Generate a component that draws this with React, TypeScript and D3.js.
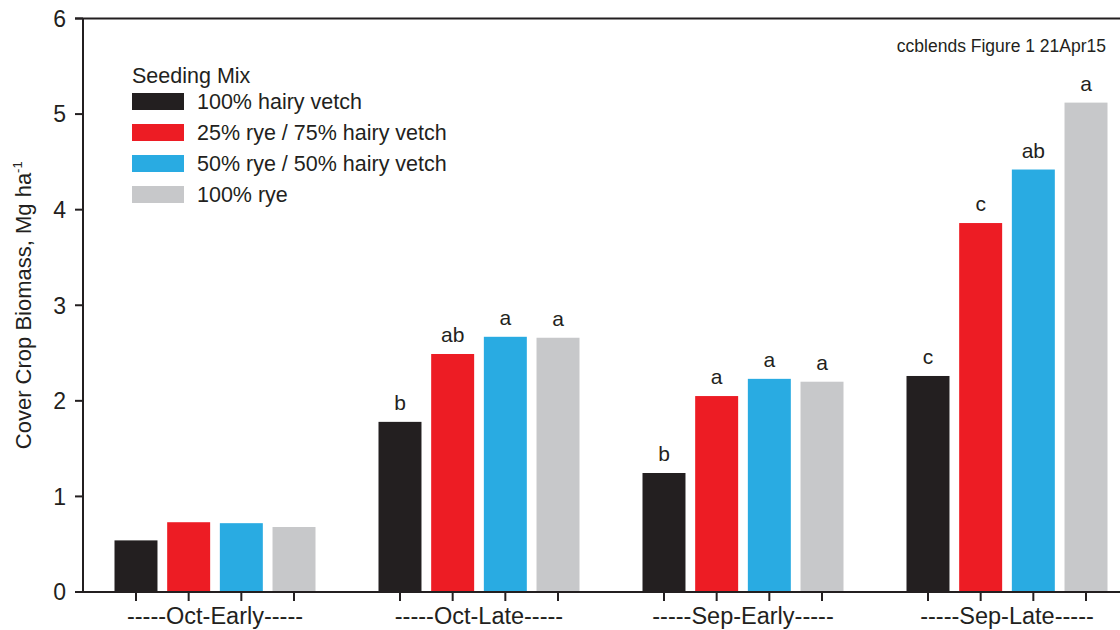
import React from "react";
import * as d3 from "d3";

const groups = ["-----Oct-Early-----", "-----Oct-Late-----", "-----Sep-Early-----", "-----Sep-Late-----"];
const mixes = ["100% hairy vetch", "25% rye / 75% hairy vetch", "50% rye / 50% hairy vetch", "100% rye"];
const colors = ["#231f20", "#ed1c24", "#29abe2", "#c7c8ca"];
const hairyVetch = [0.54, 1.78, 1.245, 2.26];
const rye25 = [0.73, 2.49, 2.05, 3.86];
const rye50 = [0.72, 2.67, 2.23, 4.42];
const rye100 = [0.68, 2.66, 2.2, 5.12];
const letters = [
  ["", "b", "b", "c"],
  ["", "ab", "a", "c"],
  ["", "a", "a", "ab"],
  ["", "a", "a", "a"],
];
const yTicks = [0, 1, 2, 3, 4, 5, 6];
const series = [hairyVetch, rye25, rye50, rye100];

const FONT = "'Liberation Sans', Arial, Helvetica, sans-serif";
const INK = "#231f20";

export default function App() {
  const W = 1120, H = 630;
  const left = 83, right = 1139, top = 18.5, bottom = 592;
  const x = d3.scaleBand<string>().domain(groups).range([left, right]).padding(0);
  const inner = d3.scaleBand<number>().domain([0, 1, 2, 3]).range([-100.5, 100.5]).paddingInner(0.184).paddingOuter(0);
  const y = d3.scaleLinear().domain([0, 6]).range([bottom, top]);

  return (
    <svg width={W} height={H} style={{ position: "absolute", left: 0, top: 0, background: "#fff" }} fontFamily={FONT}>
      {/* bars */}
      {series.map((vals, si) =>
        groups.map((g, gi) => {
          const cx = (x(g) as number) + x.bandwidth() / 2;
          const bx = cx + (inner(si) as number);
          const v = vals[gi];
          return (
            <g key={`${si}-${gi}`}>
              <rect x={bx} y={y(v)} width={inner.bandwidth()} height={bottom - y(v)} fill={colors[si]} />
              {letters[si][gi] && (
                <text x={bx + inner.bandwidth() / 2} y={y(v) - 12} textAnchor="middle" fontSize={21} fill={INK}>
                  {letters[si][gi]}
                </text>
              )}
            </g>
          );
        })
      )}
      {/* axes */}
      <line x1={left} x2={left} y1={top} y2={bottom} stroke={INK} strokeWidth={2} />
      <line x1={left - 8} x2={W} y1={bottom} y2={bottom} stroke={INK} strokeWidth={2} />
      <line x1={left - 8} x2={W} y1={top} y2={top} stroke={INK} strokeWidth={2} />
      {yTicks.map((t) => (
        <g key={t}>
          <line x1={left - 8} x2={left} y1={y(t)} y2={y(t)} stroke={INK} strokeWidth={2} />
          <text x={left - 17} y={y(t)} dy="0.36em" textAnchor="end" fontSize={23} fill={INK}>
            {t}
          </text>
        </g>
      ))}
      {groups.map((g) => {
        const cx = (x(g) as number) + x.bandwidth() / 2;
        return (
          <g key={g}>
            {[0, 1, 2, 3].map((i) => {
              const tx = cx + (inner(i) as number) + inner.bandwidth() / 2;
              return <line key={i} x1={tx} x2={tx} y1={bottom} y2={bottom + 9} stroke={INK} strokeWidth={2} />;
            })}
            <text x={cx} y={624} textAnchor="middle" fontSize={23.5} fill={INK}>
              {g}
            </text>
          </g>
        );
      })}
      {/* y label */}
      <text transform={`translate(31,${(top + bottom) / 2}) rotate(-90)`} textAnchor="middle" fontSize={22} fill={INK}>
        Cover Crop Biomass, Mg ha
        <tspan dy={-9} fontSize={13}>-1</tspan>
      </text>
      {/* annotation */}
      <text x={1106} y={52} textAnchor="end" fontSize={17.5} fill={INK}>
        ccblends Figure 1 21Apr15
      </text>
      {/* legend */}
      <text x={132} y={83} fontSize={21.5} fill={INK}>Seeding Mix</text>
      {mixes.map((m, i) => (
        <g key={m} transform={`translate(132,${93 + i * 31})`}>
          <rect x={0} y={0} width={52} height={17} fill={colors[i]} />
          <text x={65} y={8.5} dy="0.36em" fontSize={21.5} fill={INK}>{m}</text>
        </g>
      ))}
    </svg>
  );
}
